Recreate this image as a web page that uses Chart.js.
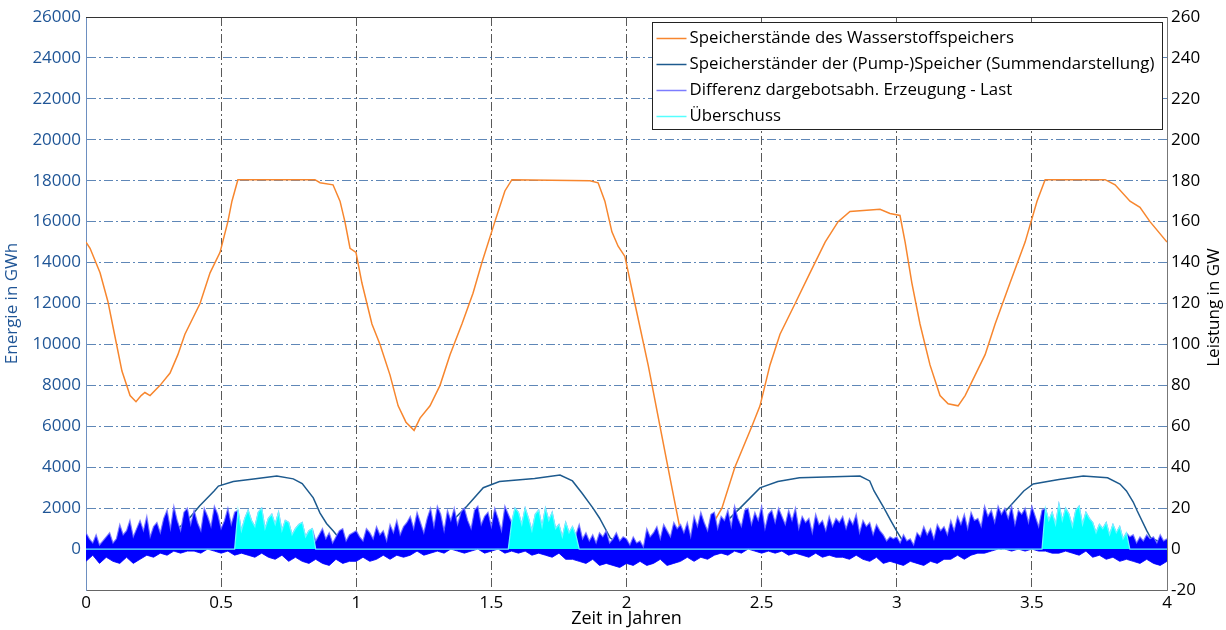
<!DOCTYPE html>
<html>
<head>
<meta charset="utf-8">
<script src="https://cdn.jsdelivr.net/npm/chart.js@4.4.0/dist/chart.umd.min.js"></script>
<style>
  html, body { margin: 0; padding: 0; background: #fff; }
  #grafica { display: block; }
</style>
</head>
<body>
<canvas id="grafica" width="1226" height="630"></canvas>
<script>
// Speicherstand Wasserstoff (GWh, linke Achse)
const wasserstoffZeit = [0, 0.015, 0.052, 0.081, 0.107, 0.133, 0.163, 0.185, 0.204, 0.218, 0.237, 0.274, 0.311, 0.34, 0.366, 0.422, 0.459, 0.496, 0.525, 0.54, 0.562, 0.847, 0.866, 0.914, 0.94, 0.958, 0.977, 0.999, 1.021, 1.058, 1.088, 1.125, 1.155, 1.184, 1.214, 1.236, 1.273, 1.31, 1.347, 1.391, 1.432, 1.465, 1.513, 1.55, 1.576, 1.865, 1.895, 1.92, 1.946, 1.969, 1.994, 2.031, 2.08, 2.124, 2.168, 2.198, 2.246, 2.272, 2.309, 2.353, 2.401, 2.464, 2.494, 2.531, 2.568, 2.624, 2.679, 2.735, 2.783, 2.827, 2.938, 2.975, 3.012, 3.031, 3.056, 3.086, 3.123, 3.16, 3.19, 3.227, 3.253, 3.29, 3.327, 3.364, 3.419, 3.475, 3.519, 3.549, 3.771, 3.808, 3.863, 3.9, 3.937, 4];
const wasserstoffGWh = [15000, 14700, 13500, 12100, 10400, 8700, 7500, 7200, 7500, 7650, 7500, 8000, 8600, 9500, 10500, 12000, 13500, 14500, 16000, 17000, 18050, 18050, 17900, 17800, 17000, 16000, 14700, 14500, 13000, 11000, 10000, 8500, 7000, 6200, 5800, 6400, 7000, 8000, 9500, 11000, 12500, 14000, 16000, 17500, 18050, 18000, 17900, 17000, 15500, 14800, 14300, 12000, 9000, 6000, 3000, 1000, 100, 200, 1000, 2000, 4000, 6000, 7000, 9000, 10500, 12000, 13500, 15000, 16000, 16500, 16600, 16400, 16300, 15000, 13000, 11000, 9000, 7500, 7100, 7000, 7500, 8500, 9500, 11000, 13000, 15000, 17000, 18050, 18050, 17800, 17000, 16700, 16000, 15000];

// Pumpspeicher Summe (GWh, linke Achse)
const pumpZeit = [0, 0.1, 0.2, 0.28, 0.33, 0.374, 0.42, 0.474, 0.49, 0.545, 0.62, 0.706, 0.767, 0.8, 0.841, 0.866, 0.89, 0.915, 0.952, 0.99, 1.1, 1.2, 1.28, 1.35, 1.41, 1.47, 1.53, 1.66, 1.754, 1.8, 1.835, 1.876, 1.9, 1.94, 1.976, 2.03, 2.1, 2.22, 2.29, 2.346, 2.42, 2.494, 2.56, 2.64, 2.864, 2.9, 2.916, 2.953, 2.979, 3.0, 3.027, 3.064, 3.15, 3.22, 3.3, 3.397, 3.47, 3.505, 3.6, 3.69, 3.78, 3.826, 3.85, 3.875, 3.89, 3.925, 3.94, 3.99, 4];
const pumpGWh = [150, 100, 120, 450, 900, 1370, 2100, 2840, 3080, 3300, 3420, 3570, 3430, 3200, 2500, 1760, 1250, 880, 290, 150, 80, 100, 500, 1300, 2100, 3000, 3300, 3450, 3620, 3330, 2740, 2000, 1520, 540, 250, 150, 100, 120, 500, 1030, 2000, 2990, 3300, 3480, 3570, 3330, 2840, 2000, 1370, 880, 290, 150, 100, 120, 700, 1780, 2840, 3180, 3400, 3570, 3480, 3180, 2840, 2300, 1860, 900, 540, 250, 150];

// Differenz Erzeugung - Last (GW, rechte Achse): obere Spitzen alle 0.0125 Jahre
const schrittOben = 0.0125;
const differenzOben = [
  8, 5, 3, 7, 2, 4, 6, 8, 3, 5, 12, 7, 9, 14, 6, 10,
  14, 9, 16, 6, 11, 13, 8, 15, 19, 10, 21, 14, 9, 18, 20, 12,
  19, 13, 9, 20, 16, 11, 21, 17, 10, 14, 20, 12, 18, 19, 9, 15,
  19, 14, 11, 18, 20, 10, 15, 17, 12, 18, 9, 14, 13, 7, 10, 12,
  13, 6, 9, 10, 4, 7, 10, 5, 8, 3, 6, 9, 10, 4, 7, 8,
  9, 6, 4, 10, 8, 5, 11, 7, 9, 4, 12, 8, 14, 7, 11, 13,
  16, 10, 18, 13, 8, 15, 20, 11, 21, 17, 9, 19, 14, 20, 12, 18,
  20, 14, 10, 19, 21, 12, 16, 18, 11, 20, 15, 9, 21, 17, 13, 20,
  18, 12, 20, 15, 9, 17, 19, 11, 20, 14, 18, 10, 12, 6, 13, 8,
  11, 7, 12, 5, 8, 4, 7, 3, 8, 6, 9, 3, 5, 8, 4, 6,
  5, 2, 6, 3, 4, 1, 10, 6, 8, 11, 5, 12, 9, 6, 13, 10,
  12, 8, 13, 6, 16, 11, 18, 13, 9, 17, 18, 10, 16, 14, 19, 11,
  21, 15, 11, 19, 20, 12, 18, 14, 21, 10, 17, 19, 13, 20, 16, 12,
  19, 14, 20, 10, 16, 13, 15, 8, 17, 12, 14, 9, 16, 11, 15, 13,
  16, 10, 15, 12, 17, 8, 14, 11, 13, 7, 12, 9, 7, 4, 6, 5,
  6, 3, 7, 4, 5, 2, 8, 6, 11, 7, 10, 5, 12, 9, 11, 7,
  14, 9, 16, 12, 17, 10, 18, 14, 15, 11, 21, 16, 19, 13, 21, 17,
  20, 15, 21, 12, 19, 17, 20, 13, 21, 16, 11, 19, 20, 14, 18, 12,
  22, 14, 20, 17, 11, 19, 21, 12, 18, 15, 13, 8, 12, 10, 13, 7,
  12, 8, 11, 5, 8, 6, 7, 3, 6, 4, 7, 5, 6, 3, 7, 4,
  5
];
// untere Spitzen alle 0.025 Jahre
const schrittUnten = 0.025;
const differenzUnten = [
  -6, -3, -7, -4, -6, -7, -4, -7,
  -5, -3, -4, -2, -3, -1, -2, -1,
  -1, -2, 0, -1, -2, -1, -3, -2,
  -3, -4, -2, -4, -5, -3, -6, -4,
  -6, -7, -5, -7, -8, -5, -7, -6,
  -6, -4, -6, -5, -3, -5, -3, -4,
  -3, -1, -3, -2, -1, -2, 0, -1,
  -2, -1, 0, -2, -1, 0, -2, -1,
  -2, -1, -3, -2, -3, -4, -2, -5,
  -5, -6, -7, -5, -8, -7, -8, -9,
  -7, -8, -6, -8, -7, -5, -8, -7,
  -6, -4, -6, -4, -5, -3, -2, -3,
  -1, -2, 0, -1, -2, -1, -2, -1,
  -3, -2, -3, -4, -2, -4, -3, -4,
  -4, -5, -3, -5, -6, -4, -7, -6,
  -7, -8, -6, -7, -8, -6, -7, -5,
  -5, -3, -5, -3, -2, -2, -1, 0,
  0, -1, 0, -1, 0, -1, -1, -2,
  -2, -1, -2, -3, -1, -4, -3, -5,
  -4, -6, -5, -6, -7, -5, -7, -8,
  -6
];
// Zeitraeume mit Ueberschuss (Jahre)
const ueberschussBereiche = [[0.5625, 0.84], [1.575, 1.82], [3.55, 3.85]];

const xTicks = [0, 0.5, 1, 1.5, 2, 2.5, 3, 3.5, 4];

const paare = (xs, ys) => ys.map((y, i) => ({ x: xs[i], y: y }));
const raster = (ys, schritt) => ys.map((y, i) => ({ x: i * schritt, y: y }));
const imUeberschuss = t => ueberschussBereiche.some(b => t >= b[0] && t <= b[1]);

const obenPunkte = raster(differenzOben, schrittOben);
const ueberschussPunkte = obenPunkte.map(p => ({ x: p.x, y: imUeberschuss(p.x) ? p.y : 0 }));

const schrift = '"Open Sans", "Noto Sans", sans-serif';
Chart.defaults.font.family = schrift;
Chart.defaults.font.size = 17;
Chart.defaults.color = '#000';

const blauAchse = '#1f5596';
const gitterDash = [9, 3, 2, 3];

// Legende, Rahmen oben und Titel rechts
const extras = {
  id: 'extras',
  afterDraw(chart) {
    const { ctx, chartArea } = chart;
    ctx.save();
    ctx.strokeStyle = '#333';
    ctx.lineWidth = 1;
    ctx.beginPath();
    ctx.moveTo(chartArea.left, chartArea.top + 0.5);
    ctx.lineTo(chartArea.right, chartArea.top + 0.5);
    ctx.stroke();

    const eintraege = chart.data.datasets.filter(d => d.label);
    const bx = 652.5, by = 22.5, bw = 510, bh = 107;
    ctx.fillStyle = '#fff';
    ctx.fillRect(bx, by, bw, bh);
    ctx.strokeStyle = '#222';
    ctx.strokeRect(bx, by, bw, bh);
    ctx.font = '16.8px ' + schrift;
    ctx.textBaseline = 'middle';
    ctx.textAlign = 'left';
    eintraege.forEach((d, i) => {
      const y = by + 16 + i * 26;
      ctx.strokeStyle = d.legendColor || d.borderColor;
      ctx.lineWidth = 1.5;
      ctx.beginPath();
      ctx.moveTo(bx + 4, y);
      ctx.lineTo(bx + 34, y);
      ctx.stroke();
      ctx.fillStyle = '#000';
      ctx.fillText(d.label, bx + 37, y);
    });

    ctx.translate(1214, (chartArea.top + chartArea.bottom) / 2 + 4);
    ctx.rotate(-Math.PI / 2);
    ctx.textAlign = 'center';
    ctx.font = '17px ' + schrift;
    ctx.fillStyle = '#000';
    ctx.fillText('Leistung in GW', 0, 0);
    ctx.restore();
  }
};

const ctx = document.getElementById('grafica');
new Chart(ctx, {
  type: 'line',
  data: {
    datasets: [{
      label: 'Speicherstände des Wasserstoffspeichers',
      data: paare(wasserstoffZeit, wasserstoffGWh),
      borderColor: '#f7862e',
      borderWidth: 1.5,
      yAxisID: 'y',
      order: 3
    }, {
      label: 'Speicherständer der (Pump-)Speicher (Summendarstellung)',
      data: paare(pumpZeit, pumpGWh),
      borderColor: '#1d5a8e',
      borderWidth: 1.5,
      yAxisID: 'y',
      order: 4
    }, {
      label: 'Differenz dargebotsabh. Erzeugung - Last',
      data: obenPunkte,
      borderColor: 'rgba(115,115,255,0.85)',
      legendColor: '#7c7cff',
      borderWidth: 1.2,
      backgroundColor: '#0000ff',
      fill: '+1',
      yAxisID: 'y2',
      order: 1
    }, {
      data: raster(differenzUnten, schrittUnten),
      borderColor: '#2a2aff',
      borderWidth: 1,
      yAxisID: 'y2',
      order: 2
    }, {
      label: 'Überschuss',
      data: ueberschussPunkte,
      borderColor: 'rgba(110,255,255,0.95)',
      legendColor: '#55ffff',
      borderWidth: 1.2,
      backgroundColor: '#00ffff',
      fill: 'origin',
      yAxisID: 'y2',
      order: 0
    }]
  },
  options: {
    responsive: false,
    animation: false,
    devicePixelRatio: 1,
    elements: { point: { radius: 0 }, line: { tension: 0 } },
    layout: { padding: { top: 17, left: 0, right: 0, bottom: 0 } },
    plugins: { legend: { display: false }, tooltip: { enabled: false } },
    scales: {
      x: {
        type: 'linear',
        min: 0,
        max: 4,
        afterBuildTicks: s => { s.ticks = xTicks.map(v => ({ value: v })); },
        afterFit: s => { s.height = 40; },
        ticks: { padding: 3, color: '#000', callback: v => String(v) },
        grid: { color: 'rgba(60,60,60,0.85)', drawTicks: false },
        border: { color: '#666', dash: gitterDash },
        title: { display: true, text: 'Zeit in Jahren', color: '#000', padding: 0, font: { size: 18 } }
      },
      y: {
        position: 'left',
        min: -2000,
        max: 26000,
        ticks: { stepSize: 2000, padding: 5, color: blauAchse, callback: v => v < 0 ? '' : String(v) },
        afterFit: s => { s.width = 86; },
        grid: { color: 'rgba(55,105,165,0.8)', drawTicks: false },
        border: { color: '#6d8fc0', dash: gitterDash },
        title: { display: true, text: 'Energie in GWh', color: blauAchse, padding: { top: 2, bottom: 0 }, font: { size: 17 } }
      },
      y2: {
        position: 'right',
        min: -20,
        max: 260,
        ticks: { stepSize: 20, padding: 4, color: '#000', callback: v => String(v) },
        afterFit: s => { s.width = 59; },
        grid: { display: false, drawTicks: false },
        border: { color: '#777' }
      }
    }
  },
  plugins: [extras]
});
</script>
</body>
</html>
